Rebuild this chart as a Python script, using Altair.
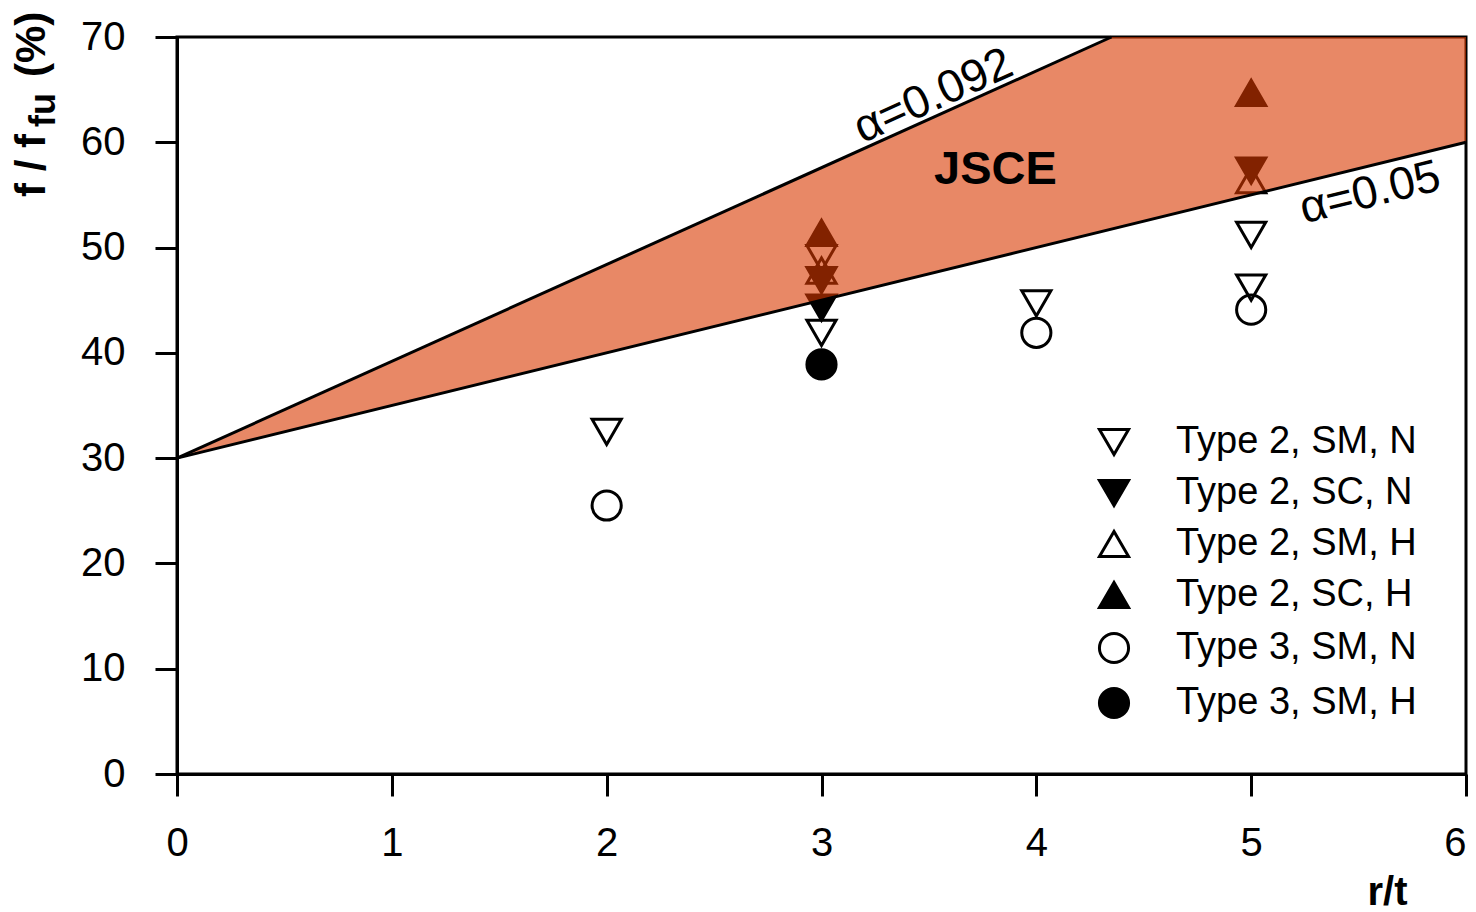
import altair as alt
import pandas as pd

# ---- data ----
series_names = ["Type 2, SM, N", "Type 2, SC, N", "Type 2, SM, H",
                "Type 2, SC, H", "Type 3, SM, N", "Type 3, SM, H"]
series_shapes = ["triangle-down", "triangle-down", "triangle-up",
                 "triangle-up", "circle", "circle"]
series_fills = ["transparent", "black", "transparent", "black", "transparent", "black"]
series_strokes = ["black"] * 6

pt_series = (["Type 2, SM, N"] * 6 + ["Type 2, SC, N"] * 3 + ["Type 2, SM, H"] * 2 +
             ["Type 2, SC, H"] * 2 + ["Type 3, SM, N"] * 3 + ["Type 3, SM, H"] * 1)
pt_x = [2, 3, 3, 4, 5, 5,
        3, 3, 5,
        3, 5,
        3, 5,
        2, 4, 5,
        3]
pt_y = [32.5, 49.0, 41.9, 44.7, 51.2, 46.2,
        46.9, 44.3, 57.3,
        47.8, 56.4,
        51.4, 64.7,
        25.5, 41.9, 44.1,
        38.9]

band_x = [0, 4.35, 6]
band_lower = [30, 51.75, 60]
band_upper = [30, 70, 70]

line_name = ["upper", "upper", "lower", "lower"]
line_x = [0, 4.35, 0, 6]
line_y = [30, 70, 30, 60]

FONT = "Liberation Sans"

pts = pd.DataFrame({"series": pt_series, "x": pt_x, "y": pt_y})
band = pd.DataFrame({"x": band_x, "lo": band_lower, "hi": band_upper})
lines = pd.DataFrame({"name": line_name, "x": line_x, "y": line_y})

xs = alt.Scale(domain=[0, 6], nice=False)
ys = alt.Scale(domain=[0, 70], nice=False)

leg = alt.Legend(orient="none", legendX=918, legendY=386,
                 title=None, labelFont=FONT, labelFontSize=38, labelLimit=0,
                 labelColor="black", symbolSize=850,
                 symbolStrokeWidth=3, rowPadding=13, labelOffset=43, padding=0)

points = alt.Chart(pts).mark_point(filled=True, size=850, strokeWidth=3, opacity=1).encode(
    x=alt.X("x:Q", scale=xs,
            axis=alt.Axis(values=[0, 1, 2, 3, 4, 5, 6], format="d", labelFlush=False,
                          labelAlign={"condition": {"test": "datum.value == 6",
                                                    "value": "right"},
                                      "value": "center"},
                          title="r/t",
                          titleFont=FONT, titleFontSize=40, titleFontWeight="bold",
                          titleX=1230, titleY=130, titleAlign="right",
                          titleBaseline="alphabetic", labelPadding=27)),
    y=alt.Y("y:Q", scale=ys,
            axis=alt.Axis(values=[0, 10, 20, 30, 40, 50, 60, 70], title=None,
                          labelFlush=False, labelPadding=30)),
    shape=alt.Shape("series:N",
                    scale=alt.Scale(domain=series_names, range=series_shapes),
                    legend=leg),
    fill=alt.Fill("series:N",
                  scale=alt.Scale(domain=series_names, range=series_fills),
                  legend=leg),
    stroke=alt.Stroke("series:N",
                      scale=alt.Scale(domain=series_names, range=series_strokes),
                      legend=leg),
)

area = alt.Chart(band).mark_area(color="#d93800", opacity=0.6).encode(
    x=alt.X("x:Q", scale=xs), y=alt.Y("lo:Q", scale=ys), y2="hi:Q")

edge = alt.Chart(lines).mark_line(color="black", strokeWidth=3).encode(
    x=alt.X("x:Q", scale=xs), y=alt.Y("y:Q", scale=ys), detail="name:N")

lab_a1 = alt.Chart(pd.DataFrame({"x": [3.52], "y": [64.4], "t": ["α=0.092"]})).mark_text(
    font=FONT, fontSize=46, angle=335.7, color="black").encode(
    x=alt.X("x:Q", scale=xs), y=alt.Y("y:Q", scale=ys), text="t:N")
lab_a2 = alt.Chart(pd.DataFrame({"x": [5.554], "y": [55.2], "t": ["α=0.05"]})).mark_text(
    font=FONT, fontSize=46, angle=346.2, color="black").encode(
    x=alt.X("x:Q", scale=xs), y=alt.Y("y:Q", scale=ys), text="t:N")
lab_jsce = alt.Chart(pd.DataFrame({"x": [3.81], "y": [57.4], "t": ["JSCE"]})).mark_text(
    font=FONT, fontSize=47, fontWeight="bold", color="black").encode(
    x=alt.X("x:Q", scale=xs), y=alt.Y("y:Q", scale=ys), text="t:N")

one = pd.DataFrame({"t": ["f / f"]})
yt1 = alt.Chart(one).mark_text(font=FONT, fontSize=42, fontWeight="bold", angle=270,
                               align="left", baseline="alphabetic", color="black").encode(
    x=alt.value(-132), y=alt.value(160), text=alt.value("f / f"))
yt2 = alt.Chart(one).mark_text(font=FONT, fontSize=36, fontWeight="bold", angle=270,
                               align="left", baseline="alphabetic", color="black").encode(
    x=alt.value(-122), y=alt.value(90), text=alt.value("fu"))
yt3 = alt.Chart(one).mark_text(font=FONT, fontSize=42, fontWeight="bold", angle=270,
                               align="left", baseline="alphabetic", color="black").encode(
    x=alt.value(-132), y=alt.value(40), text=alt.value("(%)"))

chart = alt.layer(points, area, edge, lab_a1, lab_a2, lab_jsce, yt1, yt2, yt3).properties(
    width=1289, height=737,
    autosize=alt.AutoSizeParams(type="none"),
    padding={"left": 169, "top": 29, "right": 2, "bottom": 138},
    background="white",
).configure_view(stroke="black", strokeWidth=3).configure_axis(
    labelFont=FONT, labelFontSize=40, labelColor="black", domainColor="black",
    domainWidth=3, tickColor="black", tickWidth=3, tickSize=22, grid=False,
)

chart.save("out.html", embed_options={"renderer": "svg", "actions": False})
